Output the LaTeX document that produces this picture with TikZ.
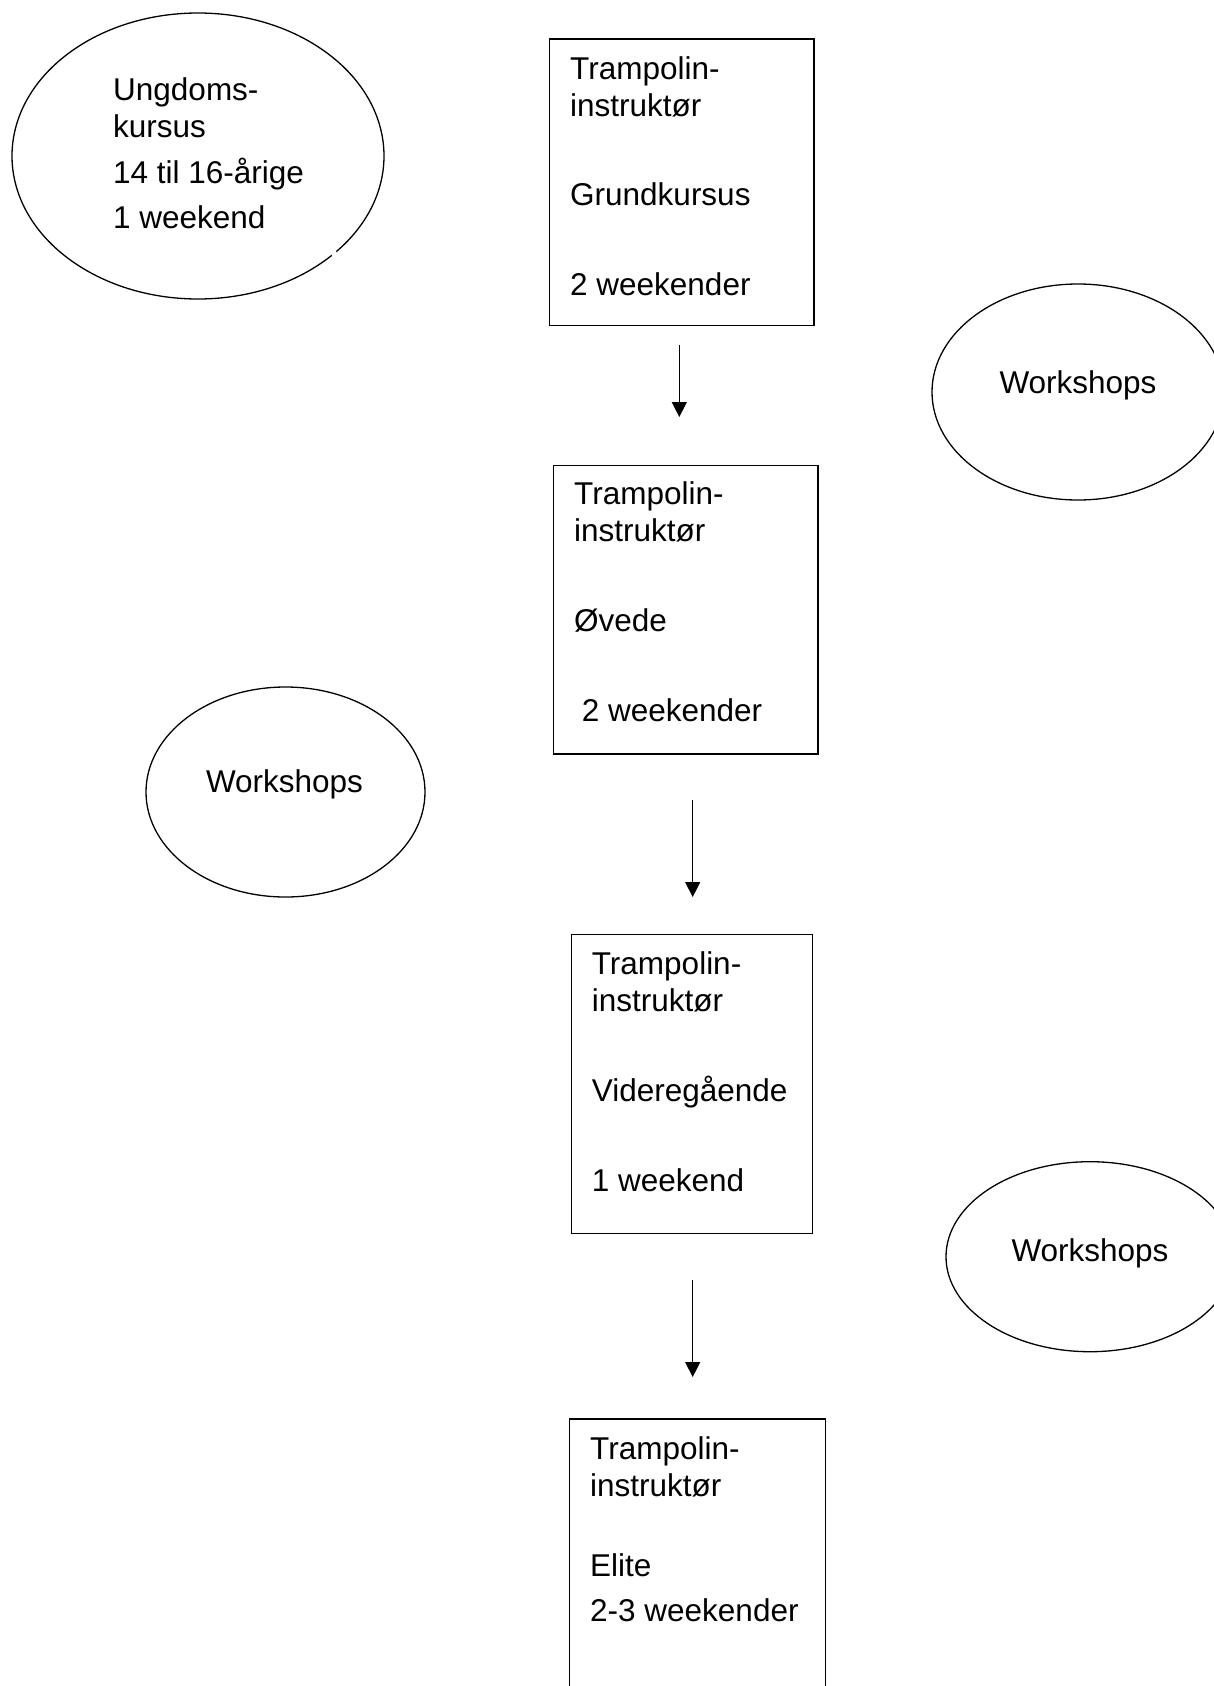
\documentclass[tikz,border=0pt]{standalone}
\usepackage{fontspec}
\setmainfont{Liberation Sans}
\usetikzlibrary{arrows.meta,shapes.geometric}
\tikzset{
  lbl/.style={anchor=base west, inner sep=0pt, font=\fontsize{31.5}{37}\selectfont},
  ctr/.style={anchor=base, inner sep=0pt, font=\fontsize{31.5}{37}\selectfont},
  boxshape/.style={draw, line width=1.3pt, rectangle, inner sep=0pt, anchor=north west},
  ovl/.style={draw, line width=1.3pt, ellipse, inner sep=0pt},
  arr/.style={line width=1.3pt, -{Triangle[width=15pt,length=15pt]}}
}
\begin{document}
\begin{tikzpicture}[x=1pt,y=-1pt]
\useasboundingbox (0,0) rectangle (1214,1686);
\clip (0,0) rectangle (1214,1686);
\fill[white] (0,0) rectangle (1214,1686);

% Ungdomskursus ellipse (with small gap at lower right)
\node[ellipse, minimum width=372pt, minimum height=286pt, inner sep=0pt] (e0) at (198,156) {};
\draw[line width=1.3pt] (198,156) ++(44:186 and 143) arc[start angle=44, end angle=402, x radius=186, y radius=143];
\node[lbl] (e0a) at (113,100) {Ungdoms-};
\node[lbl] (e0b) at (113,137) {kursus};
\node[lbl] (e0c) at (113,183) {14 til 16-årige};
\node[lbl] (e0d) at (113,228) {1 weekend};

% Box 1
\node[boxshape, minimum width=264.6pt, minimum height=286.7pt] (b1) at (548.7,38.3) {};
\node[lbl] (b1a) at (570,79) {Trampolin-};
\node[lbl] (b1b) at (570,116) {instruktør};
\node[lbl] (b1c) at (570,205) {Grundkursus};
\node[lbl] (b1d) at (570,295) {2 weekender};

% Box 2
\node[boxshape, minimum width=264.6pt, minimum height=288.3pt] (b2) at (552.7,465) {};
\node[lbl] (b2a) at (574,504.7) {Trampolin-};
\node[lbl] (b2b) at (574,541.7) {instruktør};
\node[lbl] (b2c) at (574,631.7) {Øvede};
\node[lbl] (b2d) at (581.7,721.7) {2 weekender};

% Box 3
\node[boxshape, minimum width=241pt, minimum height=298.7pt] (b3) at (570.7,934) {};
\node[lbl] (b3a) at (591.7,974.7) {Trampolin-};
\node[lbl] (b3b) at (591.7,1011.7) {instruktør};
\node[lbl] (b3c) at (591.7,1101.7) {Videregående};
\node[lbl] (b3d) at (591.7,1191.7) {1 weekend};

% Box 4
\node[boxshape, minimum width=256pt, minimum height=300pt] (b4) at (569,1418.3) {};
\node[lbl] (b4a) at (590,1459.7) {Trampolin-};
\node[lbl] (b4b) at (590,1496.7) {instruktør};
\node[lbl] (b4c) at (590,1576.7) {Elite};
\node[lbl] (b4d) at (590,1621.7) {2-3 weekender};

% Workshops ellipses
\node[ovl, minimum width=292pt, minimum height=216pt] (w1) at (1078,392) {};
\node[ctr] (w1t) at (1078,393) {Workshops};
\node[ovl, minimum width=279pt, minimum height=210pt] (w2) at (285.5,792) {};
\node[ctr] (w2t) at (284.5,792) {Workshops};
\node[ovl, minimum width=288pt, minimum height=190pt] (w3) at (1090,1256.7) {};
\node[ctr] (w3t) at (1090,1261.7) {Workshops};

% Arrows
\coordinate (a1s) at (679.3,345);
\coordinate (a1e) at (679.3,417);
\coordinate (a2s) at (692.7,800);
\coordinate (a2e) at (692.7,897);
\coordinate (a3s) at (692.7,1280);
\coordinate (a3e) at (692.7,1377);
\draw[arr] (a1s) -- (a1e);
\draw[arr] (a2s) -- (a2e);
\draw[arr] (a3s) -- (a3e);
\end{tikzpicture}
\end{document}
